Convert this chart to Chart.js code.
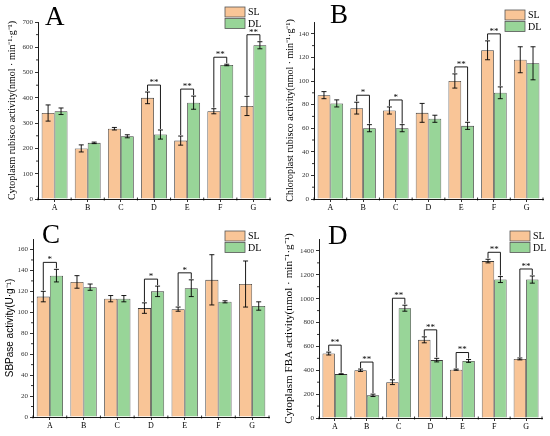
<!DOCTYPE html>
<html>
<head>
<meta charset="utf-8">
<script src="https://cdn.jsdelivr.net/npm/chart.js@4.4.1/dist/chart.umd.min.js"></script>
<style>
  body { margin: 0; background: #fff; }
  #wrap { position: relative; width: 550px; height: 436px; }
  #wrap canvas { position: absolute; }
</style>
</head>
<body>
<div id="wrap">
  <canvas id="panel-a" width="275" height="218" style="left:0;top:0"></canvas>
  <canvas id="panel-b" width="275" height="218" style="left:275px;top:0"></canvas>
  <canvas id="panel-c" width="275" height="218" style="left:0;top:218px"></canvas>
  <canvas id="panel-d" width="275" height="218" style="left:275px;top:218px"></canvas>
</div>
<script>
// groups on the x axis
const groups = ["A", "B", "C", "D", "E", "F", "G"];

// A - cytoplasm rubisco
const cytoRubiscoSL = [340, 200, 278, 400, 231, 347, 368];
const cytoRubiscoSLErr = [32, 14, 5, 23, 18, 10, 38];
const cytoRubiscoDL = [347, 222, 248, 255, 381, 530, 608];
const cytoRubiscoDLErr = [13, 3, 6, 18, 26, 3, 14];
const cytoRubiscoSig = ["", "", "", "**", "**", "**", "**"];
const cytoRubiscoTicks = [0, 100, 200, 300, 400, 500, 600, 700];

// B - chloroplast rubisco
const chloroRubiscoSL = [88, 77, 75, 73, 100, 126, 118];
const chloroRubiscoSLErr = [3, 5, 3, 8, 6, 8, 11];
const chloroRubiscoDL = [81, 60, 60, 68, 62, 90, 115];
const chloroRubiscoDLErr = [3, 3, 3, 3, 3, 5, 14];
const chloroRubiscoSig = ["", "*", "*", "", "**", "**", ""];
const chloroRubiscoTicks = [0, 20, 40, 60, 80, 100, 120, 140];

// C - SBPase
const sbpaseSL = [115, 129, 113, 104, 103, 131, 127];
const sbpaseSLErr = [5, 6, 3, 5, 2, 24, 22];
const sbpaseDL = [135, 124, 113, 120, 123, 110, 106];
const sbpaseDLErr = [6, 3, 3, 5, 8, 1, 4];
const sbpaseSig = ["*", "", "", "*", "*", "", ""];
const sbpaseTicks = [0, 20, 40, 60, 80, 100, 120, 140, 160];

// D - cytoplasm FBA
const fbaSL = [540, 400, 300, 655, 405, 1315, 495];
const fbaSLErr = [12, 10, 20, 25, 5, 15, 8];
const fbaDL = [368, 190, 920, 485, 478, 1160, 1160];
const fbaDLErr = [3, 10, 25, 15, 12, 25, 30];
const fbaSig = ["**", "**", "**", "**", "**", "**", "**"];
const fbaTicks = [0, 200, 400, 600, 800, 1000, 1200, 1400];

const SERIF = "'Liberation Serif', 'Times New Roman', serif";
const SANS = "'Liberation Sans', Arial, sans-serif";
const orange = "#f9c597";
const green = "#98d598";

const extras = {
  id: "extras",
  afterDatasetsDraw(chart, args, opts) {
    const ctx = chart.ctx;
    const y = chart.scales.y;
    const x = chart.scales.x;
    ctx.save();
    ctx.strokeStyle = "#000";
    ctx.lineWidth = 0.9;

    // error bars
    chart.data.datasets.forEach((ds, di) => {
      chart.getDatasetMeta(di).data.forEach((bar, i) => {
        const top = y.getPixelForValue(ds.data[i] + ds.err[i]);
        const bot = y.getPixelForValue(ds.data[i] - ds.err[i]);
        ctx.beginPath();
        ctx.moveTo(bar.x, top);
        ctx.lineTo(bar.x, bot);
        ctx.moveTo(bar.x - 2.5, top);
        ctx.lineTo(bar.x + 2.5, top);
        ctx.moveTo(bar.x - 2.5, bot);
        ctx.lineTo(bar.x + 2.5, bot);
        ctx.stroke();
      });
    });

    // significance brackets
    const d0 = chart.data.datasets[0], d1 = chart.data.datasets[1];
    ctx.fillStyle = "#000";
    ctx.font = "9px " + SERIF;
    ctx.textAlign = "center";
    ctx.textBaseline = "bottom";
    opts.sig.forEach((s, i) => {
      if (!s) return;
      const a = chart.getDatasetMeta(0).data[i];
      const b = chart.getDatasetMeta(1).data[i];
      const ta = y.getPixelForValue(d0.data[i] + d0.err[i]) - 1;
      const tb = y.getPixelForValue(d1.data[i] + d1.err[i]) - 1;
      const h = Math.min(ta, tb) - 6;
      ctx.beginPath();
      ctx.moveTo(a.x, ta);
      ctx.lineTo(a.x, h);
      ctx.lineTo(b.x, h);
      ctx.lineTo(b.x, tb);
      ctx.stroke();
      ctx.fillText(s, (a.x + b.x) / 2, h + 2);
    });

    // minor ticks on y
    ctx.lineWidth = 0.8;
    const t = y.ticks;
    for (let i = 0; i < t.length - 1; i++) {
      const py = y.getPixelForValue((t[i].value + t[i + 1].value) / 2);
      ctx.beginPath();
      ctx.moveTo(y.right - 2, py);
      ctx.lineTo(y.right, py);
      ctx.stroke();
    }
    // minor ticks between groups on x
    for (let i = 0; i <= groups.length; i++) {
      const px = x.getPixelForValue(i - 0.5);
      ctx.beginPath();
      ctx.moveTo(px, x.top - 1.5);
      ctx.lineTo(px, x.top + 1.5);
      ctx.stroke();
    }

    // legend
    const L = opts.legend;
    [["SL", orange, 0], ["DL", green, 1]].forEach(([txt, col, k]) => {
      const by = L.y + k * 11.5;
      ctx.fillStyle = col;
      ctx.fillRect(L.x, by, 20, 10);
      ctx.strokeStyle = "#555";
      ctx.strokeRect(L.x, by, 20, 10);
      ctx.fillStyle = "#000";
      ctx.font = "10px " + SERIF;
      ctx.textAlign = "left";
      ctx.textBaseline = "middle";
      ctx.fillText(txt, L.x + 23, by + 5.5);
    });

    // panel letter
    ctx.font = "27px " + SERIF;
    ctx.textAlign = "left";
    ctx.textBaseline = "alphabetic";
    ctx.fillText(opts.letter, opts.letterX, opts.letterY);
    ctx.restore();
  }
};

function makePanel(id, p) {
  return new Chart(document.getElementById(id), {
    type: "bar",
    data: {
      labels: groups,
      datasets: [
        { label: "SL", data: p.sl, err: p.slErr, backgroundColor: orange, borderColor: "#3a3a3a", borderWidth: 0.8 },
        { label: "DL", data: p.dl, err: p.dlErr, backgroundColor: green, borderColor: "#3a3a3a", borderWidth: 0.8 },
      ],
    },
    plugins: [extras],
    options: {
      responsive: false,
      animation: false,
      datasets: { bar: { categoryPercentage: 0.78, barPercentage: 1 } },
      layout: { padding: { left: 2, top: p.top, right: p.right, bottom: 0 } },
      plugins: {
        legend: { display: false },
        tooltip: { enabled: false },
        extras: { sig: p.sig, legend: p.legend, letter: p.letter, letterX: p.letterX, letterY: p.letterY },
      },
      scales: {
        x: {
          grid: { drawOnChartArea: false, offset: false, tickLength: 3, color: "#000", lineWidth: 0.8 },
          border: { color: "#000", width: 0.9 },
          ticks: { color: "#000", font: { family: SERIF, size: 8 }, padding: 1 },
          afterFit: (s) => { s.height = p.bottom; },
        },
        y: {
          min: 0,
          max: p.max,
          afterBuildTicks: (s) => { s.ticks = p.ticks.map((v) => ({ value: v })); },
          grid: { drawOnChartArea: false, tickLength: 3, color: "#000", lineWidth: 0.8 },
          border: { color: "#000", width: 0.9 },
          ticks: { color: "#333", font: { family: SERIF, size: 7 }, padding: 2, callback: (v) => String(v) },
          title: {
            display: true, text: p.title, color: "#000",
            font: { family: p.titleFont, size: p.titleSize },
            padding: { top: p.titlePad, bottom: 0 },
          },
          afterFit: (s) => { s.width = p.axisX - 2; },
        },
      },
    },
  });
}

makePanel("panel-a", {
  sl: cytoRubiscoSL, slErr: cytoRubiscoSLErr, dl: cytoRubiscoDL, dlErr: cytoRubiscoDLErr,
  sig: cytoRubiscoSig, ticks: cytoRubiscoTicks, max: 700,
  title: "Cytoplasm rubisco activity(nmol · min⁻¹·g⁻¹)", titleFont: SERIF, titleSize: 10, titlePad: 4,
  axisX: 38, top: 22, right: 5, bottom: 19,
  legend: { x: 225, y: 7 }, letter: "A", letterX: 45, letterY: 25,
});

makePanel("panel-b", {
  sl: chloroRubiscoSL, slErr: chloroRubiscoSLErr, dl: chloroRubiscoDL, dlErr: chloroRubiscoDLErr,
  sig: chloroRubiscoSig, ticks: chloroRubiscoTicks, max: 150,
  title: "Chloroplast rubisco activity(nmol · min⁻¹·g⁻¹)", titleFont: SERIF, titleSize: 10, titlePad: 7,
  axisX: 39, top: 22, right: 7, bottom: 19,
  legend: { x: 230, y: 10 }, letter: "B", letterX: 55, letterY: 23,
});

makePanel("panel-c", {
  sl: sbpaseSL, slErr: sbpaseSLErr, dl: sbpaseDL, dlErr: sbpaseDLErr,
  sig: sbpaseSig, ticks: sbpaseTicks, max: 170,
  title: "SBPase activity(U·g⁻¹)", titleFont: SANS, titleSize: 10, titlePad: 2,
  axisX: 33, top: 21, right: 6, bottom: 19,
  legend: { x: 225, y: 13 }, letter: "C", letterX: 42, letterY: 25,
});

makePanel("panel-d", {
  sl: fbaSL, slErr: fbaSLErr, dl: fbaDL, dlErr: fbaDLErr,
  sig: fbaSig, ticks: fbaTicks, max: 1500,
  title: "Cytoplasm FBA activity(nmol · min⁻¹·g⁻¹)", titleFont: SERIF, titleSize: 11.2, titlePad: 5,
  axisX: 44, top: 21, right: 8, bottom: 18,
  legend: { x: 235, y: 13 }, letter: "D", letterX: 53, letterY: 26,
});
</script>
</body>
</html>
